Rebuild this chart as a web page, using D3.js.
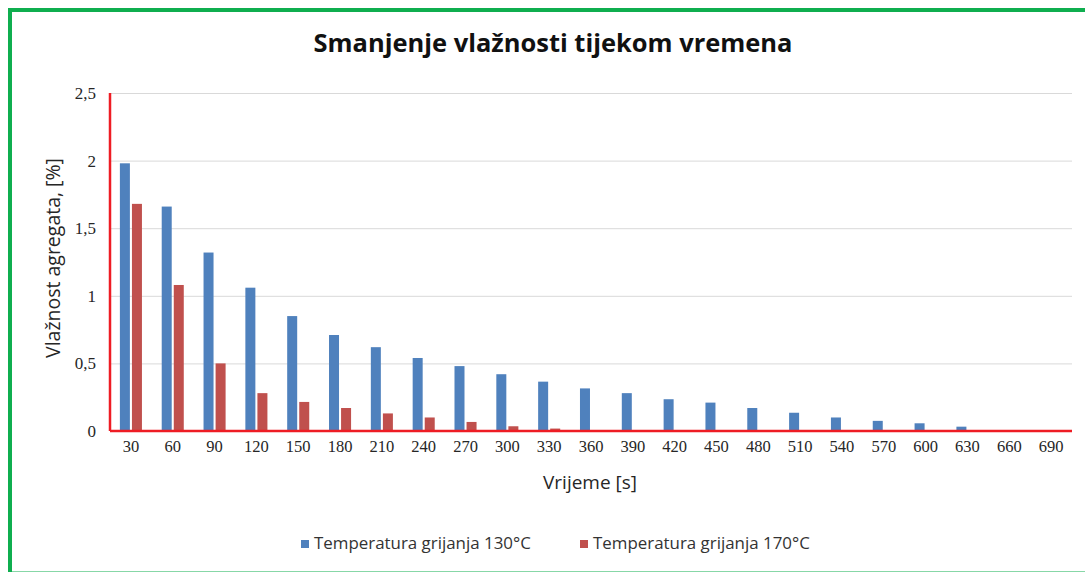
<!DOCTYPE html>
<html>
<head>
<meta charset="utf-8">
<script src="https://cdn.jsdelivr.net/npm/d3@7"></script>
<style>
  body { margin: 0; background: #fff; }
  svg { display: block; }
</style>
</head>
<body>
<svg id="chart-svg" width="1085" height="572"></svg>
<script>
const categories = ["30","60","90","120","150","180","210","240","270","300","330","360","390","420","450","480","510","540","570","600","630","660","690"];
const series = ["Temperatura grijanja 130°C", "Temperatura grijanja 170°C"];
const values130 = [1.98, 1.66, 1.32, 1.06, 0.85, 0.71, 0.62, 0.54, 0.48, 0.42, 0.365, 0.315, 0.28, 0.235, 0.21, 0.17, 0.135, 0.10, 0.075, 0.057, 0.032, 0, 0];
const values170 = [1.68, 1.08, 0.50, 0.28, 0.215, 0.17, 0.13, 0.10, 0.067, 0.035, 0.018, 0, 0, 0, 0, 0, 0, 0, 0, 0, 0, 0, 0];
const yTicks = [0, 0.5, 1, 1.5, 2, 2.5];

const svg = d3.select("#chart-svg");
const margin = { top: 93, right: 13, bottom: 141, left: 110 };
const W = 1085, H = 572;
const colors = ["#4f81bd", "#c0504d"];
const sans = "'Open Sans', 'Noto Sans', sans-serif";
const serif = "'Liberation Serif', 'Times New Roman', serif";

// shrink/grow a text so it spans about the given width
function fitWidth(sel, target) {
    sel.each(function () {
        const size = +this.getAttribute("font-size");
        const w = this.getComputedTextLength();
        if (w > 0) this.setAttribute("font-size", (size * target / w).toFixed(2));
    });
}

// green frame around the whole chart
svg.append("rect")
    .attr("x", 10).attr("y", 10)
    .attr("width", 1090).attr("height", 563.5)
    .attr("fill", "none")
    .attr("stroke", "#0fae4f")
    .attr("stroke-width", 4);

const x = d3.scaleBand()
    .domain(categories)
    .range([margin.left, W - margin.right]);

const x1 = d3.scaleBand()
    .domain(series)
    .range([0, x.bandwidth()])
    .paddingInner(0.17)
    .paddingOuter(0.82);

const y = d3.scaleLinear()
    .domain([0, 2.5])
    .range([H - margin.bottom, margin.top]);

// gridlines
svg.append("g")
    .attr("transform", `translate(${margin.left},0)`)
    .call(d3.axisLeft(y).tickValues(yTicks).tickSize(-(W - margin.right - margin.left)).tickFormat(""))
    .call(g => g.select(".domain").remove())
    .call(g => g.selectAll("line").attr("stroke", "#d9d9d9").attr("stroke-width", 1));

// y labels
svg.append("g")
    .attr("transform", `translate(${margin.left - 14},0)`)
    .call(d3.axisLeft(y).tickValues(yTicks).tickSize(0).tickPadding(0)
        .tickFormat(d => String(d).replace(".", ",")))
    .call(g => g.select(".domain").remove())
    .call(g => g.selectAll("text")
        .attr("font-family", serif)
        .attr("font-size", 17)
        .attr("fill", "#262626"));

// bars
const data = categories.map((c, i) => ({ cat: c, vals: [values130[i], values170[i]] }));
const groups = svg.append("g").selectAll("g")
    .data(data)
    .enter().append("g")
    .attr("transform", d => `translate(${x(d.cat)},0)`);

groups.selectAll("rect")
    .data(d => d.vals.map((v, j) => ({ s: series[j], v: v, j: j })))
    .enter().append("rect")
    .attr("x", d => x1(d.s))
    .attr("y", d => y(d.v))
    .attr("width", x1.bandwidth())
    .attr("height", d => y(0) - y(d.v))
    .attr("fill", d => colors[d.j]);

// x labels
svg.append("g")
    .attr("transform", `translate(0,${y(0)})`)
    .call(d3.axisBottom(x).tickSize(0).tickPadding(9))
    .call(g => g.select(".domain").remove())
    .call(g => g.selectAll("text")
        .attr("font-family", serif)
        .attr("font-size", 16.5)
        .attr("fill", "#262626"));

// red axis lines
svg.append("line")
    .attr("x1", margin.left).attr("x2", W - margin.right)
    .attr("y1", y(0)).attr("y2", y(0))
    .attr("stroke", "#ee1c24").attr("stroke-width", 2.5);
svg.append("line")
    .attr("x1", margin.left).attr("x2", margin.left)
    .attr("y1", y(2.5)).attr("y2", y(0))
    .attr("stroke", "#ee1c24").attr("stroke-width", 2.5);

// title
svg.append("text")
    .attr("x", 553)
    .attr("y", 52)
    .attr("text-anchor", "middle")
    .attr("font-family", sans)
    .attr("font-weight", "bold")
    .attr("font-size", 22)
    .attr("fill", "#111")
    .text("Smanjenje vlažnosti tijekom vremena")
    .call(fitWidth, 479);

// axis titles
svg.append("text")
    .attr("x", 590)
    .attr("y", 489)
    .attr("text-anchor", "middle")
    .attr("font-family", sans)
    .attr("font-size", 18)
    .attr("fill", "#262626")
    .text("Vrijeme [s]")
    .call(fitWidth, 94);

svg.append("text")
    .attr("transform", "rotate(-90)")
    .attr("x", -258)
    .attr("y", 60)
    .attr("text-anchor", "middle")
    .attr("font-family", sans)
    .attr("font-size", 18)
    .attr("fill", "#262626")
    .text("Vlažnost agregata, [%]")
    .call(fitWidth, 200);

// legend
const legendX = [301, 580];
const legend = svg.append("g").selectAll("g")
    .data(series)
    .enter().append("g")
    .attr("transform", (d, i) => `translate(${legendX[i]},540)`);
legend.append("rect")
    .attr("width", 8).attr("height", 8)
    .attr("fill", (d, i) => colors[i]);
legend.append("text")
    .attr("x", 13)
    .attr("y", 8.5)
    .attr("font-family", sans)
    .attr("font-size", 16)
    .attr("fill", "#333")
    .text(d => d)
    .call(fitWidth, 217);
</script>
</body>
</html>
